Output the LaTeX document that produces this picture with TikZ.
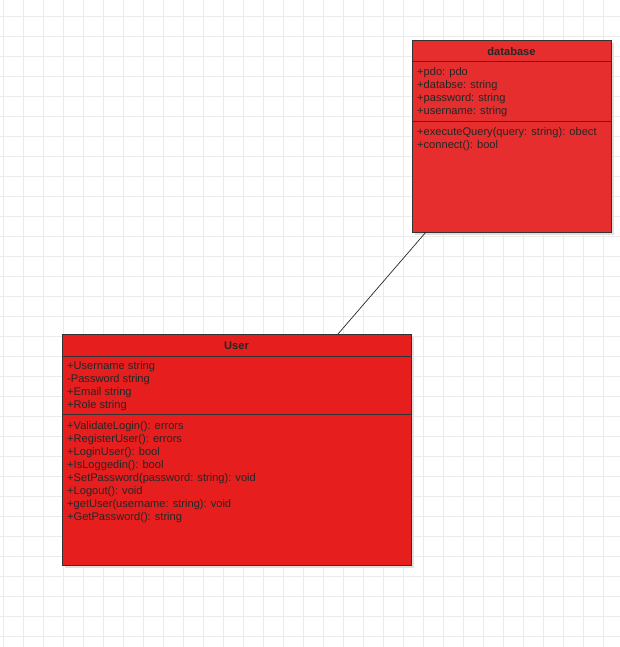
\documentclass[tikz,border=0pt]{standalone}
\usepackage{fontspec}
\setmainfont{Liberation Sans}
\usetikzlibrary{calc}
\definecolor{dbred}{HTML}{E62E2E}
\definecolor{userred}{HTML}{E61E1E}
\definecolor{gridc}{HTML}{EBEBEB}
\begin{document}
\begin{tikzpicture}[x=1pt,y=-1pt,
  box/.style={draw=black!80,line width=0.9pt,anchor=north west,inner sep=0pt,outer sep=0pt},
  sep/.style={draw=black!80,line width=0.9pt},
  lbl/.style={anchor=north west,inner sep=0pt,font=\fontsize{11.1}{13}\selectfont,text=black!85,align=left},
  hdr/.style={anchor=center,inner sep=0pt,font=\fontsize{11.1}{13}\selectfont\bfseries,text=black!85},
  shadow/.style={fill=black!12,draw=none}
]
\useasboundingbox (0,0) rectangle (620,647);
\fill[white] (0,0) rectangle (620,647);
\foreach \x in {3,23,...,603} \draw[gridc,line width=0.8pt] (\x,0) -- (\x,647);
\foreach \y in {16,36,...,636} \draw[gridc,line width=0.8pt] (0,\y) -- (620,\y);

% shadows
\fill[shadow] (415,43) rectangle (614,235);
\fill[shadow] (65,337) rectangle (414,568);

% database class
\node[box,fill=dbred,minimum width=199pt,minimum height=192pt] (db) at (412,40) {};
\draw[sep] (412,61) -- (611,61);
\draw[sep] (412,121) -- (611,121);
\node[hdr] (dbname) at (511.5,51.5) {database};
\node[lbl] (dbattr) at (417,67.5) {+pdo: pdo\\+databse: string\\+password: string\\+username: string};
\node[lbl] (dbops) at (417,127.5) {+executeQuery(query: string): obect\\+connect(): bool};

% user class
\node[box,fill=userred,minimum width=349pt,minimum height=231pt] (user) at (62,334) {};
\draw[sep] (62,356) -- (411,356);
\draw[sep] (62,414) -- (411,414);
\node[hdr] (username) at (236.5,345.5) {User};
\node[lbl] (userattr) at (67,361.5) {+Username string\\-Password string\\+Email string\\+Role string};
\node[lbl] (userops) at (67,421.5) {+ValidateLogin(): errors\\+RegisterUser(): errors\\+LoginUser(): bool\\+IsLoggedin(): bool\\+SetPassword(password: string): void\\+Logout(): void\\+getUser(username: string): void\\+GetPassword(): string};

% association
\draw[black!85,line width=0.7pt] ($(db.south west)+(14,0)$) -- ($(user.north east)+(-73,0)$);
\end{tikzpicture}
\end{document}
